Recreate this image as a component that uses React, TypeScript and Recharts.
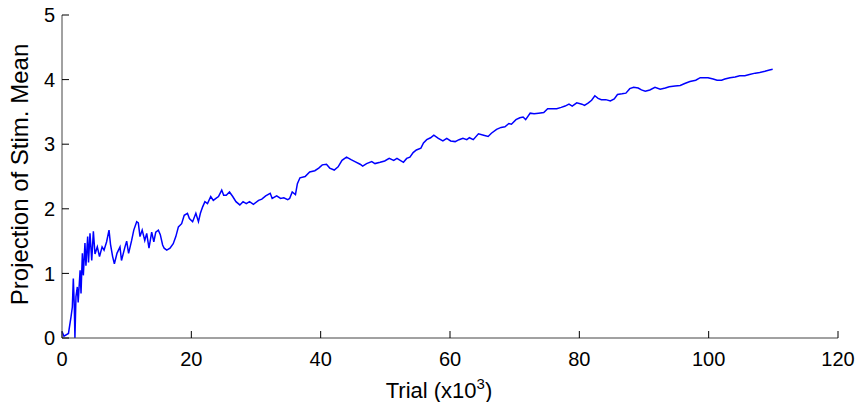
import React from "react";
import { LineChart, Line, XAxis, YAxis, Label } from "recharts";

// trial number (thousands)
const trialK = [
  0, 0.3, 1.0, 1.4, 1.6, 1.75, 1.9, 2.0, 2.16, 2.37, 2.5, 2.8, 2.94, 3.15, 3.3, 3.55, 3.7, 3.97, 4.1, 4.33,
  4.6, 4.85, 5.1, 5.46, 5.8, 6.2, 6.5, 6.9, 7.27, 7.5, 7.83, 8.1, 8.5, 8.97, 9.2, 9.74, 10.0, 10.3, 10.77, 11.1,
  11.55, 11.8, 12.06, 12.4, 12.8, 13.1, 13.45, 13.87, 14.2, 14.5, 14.9, 15.2, 15.56, 15.8, 16.2, 16.7, 17.2, 17.6, 18.0, 18.5,
  18.9, 19.4, 19.7, 20.2, 20.7, 21.1, 21.4, 21.75, 22.1, 22.5, 23.0, 23.4, 23.8, 24.2, 24.7, 25.0, 25.4, 25.9, 26.4, 26.9,
  27.5, 28.0, 28.5, 29.0, 29.6, 30.4, 30.9, 31.5, 32.2, 32.5, 33.2, 33.8, 34.3, 34.9, 35.2, 35.6, 36.1, 36.4, 36.8, 37.6,
  38.3, 39.1, 39.7, 40.25, 40.9, 41.4, 42.1, 42.7, 43.3, 44.0, 44.7, 45.3, 46.1, 46.5, 47.1, 47.9, 48.4, 49.2, 49.9, 50.6,
  51.3, 51.8, 52.3, 52.8, 53.3, 53.8, 54.3, 54.8, 55.5, 55.9, 56.4, 57.0, 57.5, 58.2, 58.9, 59.5, 60.1, 60.8, 61.4, 62.0,
  62.6, 63.0, 63.6, 64.4, 65.2, 65.9, 66.4, 67.2, 67.9, 68.5, 69.1, 69.5, 70.2, 70.8, 71.3, 71.7, 72.4, 73.0, 73.7, 74.5,
  75.1, 75.7, 76.5, 77.2, 77.8, 78.4, 78.9, 79.6, 80.4, 80.8, 81.4, 81.9, 82.4, 82.9, 83.4, 84.1, 84.8, 85.4, 85.9, 86.6,
  87.2, 87.8, 88.4, 89.1, 89.6, 90.2, 90.9, 91.7, 92.5, 93.3, 93.9, 94.8, 95.6, 96.3, 97.1, 98.0, 98.7, 99.3, 99.9, 100.7,
  101.3, 102.0, 102.5, 103.3, 104.1, 104.8, 105.6, 106.3, 107.2, 107.9, 108.7, 109.4, 109.9,
];

const projection = [
  0.1, 0.03, 0.07, 0.33, 0.48, 0.92, 0.5, 0, 0.64, 0.79, 0.55, 1.05, 0.69, 1.31, 0.97, 1.47, 1.12, 1.57, 1.17, 1.62,
  1.2, 1.65, 1.3, 1.41, 1.26, 1.41, 1.36, 1.49, 1.67, 1.45, 1.26, 1.15, 1.31, 1.41, 1.2, 1.41, 1.5, 1.31, 1.51, 1.67,
  1.8, 1.78, 1.57, 1.67, 1.51, 1.62, 1.39, 1.64, 1.49, 1.64, 1.67, 1.6, 1.44, 1.39, 1.36, 1.39, 1.46, 1.57, 1.72, 1.77,
  1.9, 1.93, 1.85, 1.8, 1.93, 1.8, 1.93, 2.03, 2.11, 2.08, 2.19, 2.13, 2.16, 2.19, 2.29, 2.21, 2.21, 2.26, 2.19, 2.11,
  2.06, 2.11, 2.08, 2.11, 2.07, 2.13, 2.15, 2.2, 2.24, 2.16, 2.2, 2.16, 2.17, 2.14, 2.16, 2.26, 2.22, 2.39, 2.48, 2.5,
  2.57, 2.59, 2.63, 2.68, 2.69, 2.63, 2.6, 2.65, 2.75, 2.8, 2.76, 2.73, 2.69, 2.66, 2.7, 2.73, 2.7, 2.72, 2.74, 2.78,
  2.75, 2.78, 2.75, 2.72, 2.78, 2.8, 2.87, 2.91, 2.94, 3.02, 3.07, 3.1, 3.14, 3.09, 3.05, 3.09, 3.05, 3.04, 3.07, 3.09,
  3.07, 3.1, 3.07, 3.16, 3.14, 3.12, 3.17, 3.23, 3.26, 3.27, 3.32, 3.31, 3.38, 3.41, 3.42, 3.38, 3.48, 3.47, 3.48, 3.49,
  3.55, 3.55, 3.55, 3.57, 3.59, 3.62, 3.59, 3.64, 3.62, 3.6, 3.64, 3.68, 3.75, 3.71, 3.69, 3.69, 3.67, 3.7, 3.77, 3.78,
  3.79, 3.86, 3.88, 3.87, 3.84, 3.82, 3.84, 3.88, 3.85, 3.87, 3.89, 3.9, 3.91, 3.94, 3.97, 3.99, 4.03, 4.03, 4.03, 4.01,
  3.99, 3.99, 4.01, 4.03, 4.04, 4.06, 4.06, 4.08, 4.1, 4.11, 4.13, 4.15, 4.16,
];

const xTicks = [0, 20, 40, 60, 80, 100, 120];
const yTicks = [0, 1, 2, 3, 4, 5];

const data = trialK.map((t, i) => ({ trial: t, proj: projection[i] }));

const FONT = '"Liberation Sans", Arial, Helvetica, sans-serif';

const YTitle = ({ viewBox }: any) => {
  const x = viewBox.x + 28;
  const y = viewBox.y + viewBox.height / 2 - 2;
  return (
    <text x={x} y={y} transform={`rotate(-90 ${x} ${y})`} textAnchor="middle" fontSize={24} fontFamily={FONT} fill="#000">
      Projection of Stim. Mean
    </text>
  );
};

const XTitle = ({ viewBox }: any) => {
  const x = viewBox.x + viewBox.width / 2 - 11;
  const y = viewBox.y + 60;
  return (
    <text x={x} y={y} textAnchor="middle" fontSize={22} fontFamily={FONT} fill="#000">
      Trial (x10
      <tspan fontSize={15} dy={-9}>3</tspan>
      <tspan dy={9}>)</tspan>
    </text>
  );
};

export default function App() {
  return (
    <div style={{ position: "absolute", left: 0, top: 0, background: "#fff" }}>
      <LineChart width={860} height={402} data={data} margin={{ top: 15, right: 22, left: 0, bottom: 0 }}>
        <XAxis
          dataKey="trial"
          type="number"
          domain={[0, 120]}
          ticks={xTicks}
          height={64}
          tickSize={-7}
          tickMargin={21}
          axisLine={{ stroke: "#444" }}
          tickLine={{ stroke: "#000" }}
          tick={{ fill: "#000", fontSize: 20, fontFamily: FONT }}
          label={<Label content={XTitle} />}
        />
        <YAxis
          type="number"
          domain={[0, 5]}
          ticks={yTicks}
          width={62}
          tickSize={-7}
          tickMargin={14}
          axisLine={{ stroke: "#444" }}
          tickLine={{ stroke: "#000" }}
          tick={{ fill: "#000", fontSize: 20, fontFamily: FONT }}
          label={<Label content={YTitle} />}
        />
        <Line
          dataKey="proj"
          stroke="#0000ff"
          strokeWidth={1.5}
          dot={false}
          type="linear"
          isAnimationActive={false}
        />
      </LineChart>
    </div>
  );
}
